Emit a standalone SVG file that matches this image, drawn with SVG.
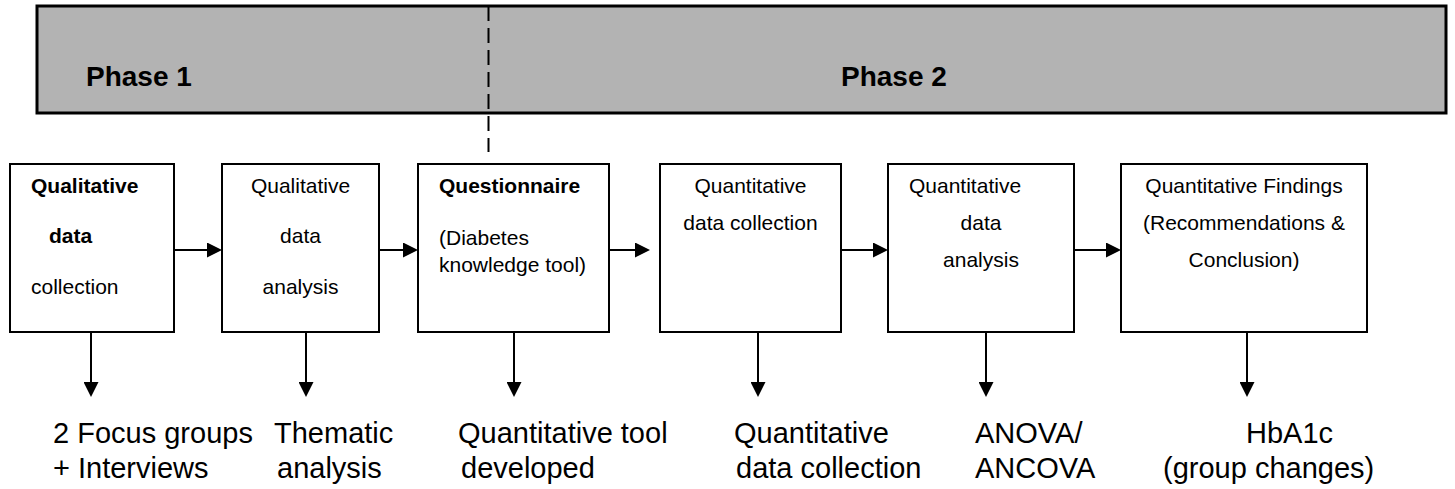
<svg xmlns="http://www.w3.org/2000/svg" width="1455" height="489" viewBox="0 0 1455 489">
  <style>
    .box { fill: #ffffff; stroke: #000000; stroke-width: 2; }
    .band { fill: #b3b3b3; stroke: #000000; stroke-width: 3; }
    .t { font-family: "Liberation Sans", Arial, sans-serif; font-size: 21px; fill: #000000; }
    .b { font-weight: bold; }
    .mid { text-anchor: middle; }
    .phase { font-family: "Liberation Sans", Arial, sans-serif; font-size: 28px; font-weight: bold; fill: #000000; }
    .out { font-family: "Liberation Sans", Arial, sans-serif; font-size: 29px; fill: #000000; }
    .link { stroke: #000000; stroke-width: 2; fill: none; marker-end: url(#head); }
    .divider { stroke: #000000; stroke-width: 2; stroke-dasharray: 15 7; }
  </style>
  <defs>
    <marker id="head" markerUnits="userSpaceOnUse" markerWidth="15" markerHeight="15" refX="5" refY="7.5" orient="auto">
      <path d="M0,0 L15,7.5 L0,15 z" fill="#000000"/>
    </marker>
  </defs>

  <!-- phase band -->
  <g id="phase-band">
    <rect class="band" x="37" y="6" width="1409" height="107"/>
    <text class="phase" x="86" y="86">Phase 1</text>
    <text class="phase" x="841" y="86">Phase 2</text>
  </g>

  <!-- boundary between the phases -->
  <line id="phase-divider" class="divider" x1="488.5" y1="6" x2="488.5" y2="152"/>

  <g id="node-qual-collection">
    <rect class="box" x="10" y="164" width="164" height="168"/>
    <text class="t b" x="31" y="193">Qualitative</text>
    <text class="t b" x="49" y="243">data</text>
    <text class="t" x="31" y="294">collection</text>
  </g>

  <g id="node-qual-analysis">
    <rect class="box" x="222" y="164" width="157" height="168"/>
    <text class="t mid" x="300.5" y="193">Qualitative</text>
    <text class="t mid" x="300.5" y="243">data</text>
    <text class="t mid" x="300.5" y="294">analysis</text>
  </g>

  <g id="node-questionnaire">
    <rect class="box" x="418" y="164" width="191" height="168"/>
    <text class="t b" x="439" y="193">Questionnaire</text>
    <text class="t" x="439" y="245">(Diabetes</text>
    <text class="t" x="439" y="272">knowledge tool)</text>
  </g>

  <g id="node-quant-collection">
    <rect class="box" x="660" y="164" width="181" height="168"/>
    <text class="t mid" x="750.5" y="193">Quantitative</text>
    <text class="t mid" x="750.5" y="230">data collection</text>
  </g>

  <g id="node-quant-analysis">
    <rect class="box" x="888" y="164" width="186" height="168"/>
    <text class="t" x="909" y="193">Quantitative</text>
    <text class="t mid" x="981" y="230">data</text>
    <text class="t mid" x="981" y="267">analysis</text>
  </g>

  <g id="node-quant-findings">
    <rect class="box" x="1121" y="164" width="246" height="168"/>
    <text class="t mid" x="1244" y="193">Quantitative Findings</text>
    <text class="t mid" x="1244" y="230">(Recommendations &amp;</text>
    <text class="t mid" x="1244" y="267">Conclusion)</text>
  </g>

  <!-- connectors -->
  <g id="connectors">
    <line class="link" x1="174" y1="250" x2="212" y2="250"/>
    <line class="link" x1="379" y1="250" x2="408" y2="250"/>
    <line class="link" x1="609" y1="250" x2="640" y2="250"/>
    <line class="link" x1="841" y1="250" x2="878" y2="250"/>
    <line class="link" x1="1074" y1="250" x2="1111" y2="250"/>

    <line class="link" x1="91" y1="332" x2="91" y2="387"/>
    <line class="link" x1="306" y1="332" x2="306" y2="387"/>
    <line class="link" x1="514" y1="332" x2="514" y2="387"/>
    <line class="link" x1="758" y1="332" x2="758" y2="387"/>
    <line class="link" x1="986" y1="332" x2="986" y2="387"/>
    <line class="link" x1="1247" y1="332" x2="1247" y2="387"/>
  </g>

  <!-- outcome labels -->
  <g id="outcomes">
    <text class="out" x="53" y="443">2 Focus groups</text>
    <text class="out" x="53" y="478">+ Interviews</text>
    <text class="out" x="274" y="443">Thematic</text>
    <text class="out" x="277" y="478">analysis</text>
    <text class="out" x="458" y="443">Quantitative tool</text>
    <text class="out" x="461" y="478">developed</text>
    <text class="out" x="734" y="443">Quantitative</text>
    <text class="out" x="736" y="478">data collection</text>
    <text class="out" x="975" y="443">ANOVA/</text>
    <text class="out" x="975" y="478">ANCOVA</text>
    <text class="out" x="1246" y="443">HbA1c</text>
    <text class="out" x="1163" y="478">(group changes)</text>
  </g>
</svg>
